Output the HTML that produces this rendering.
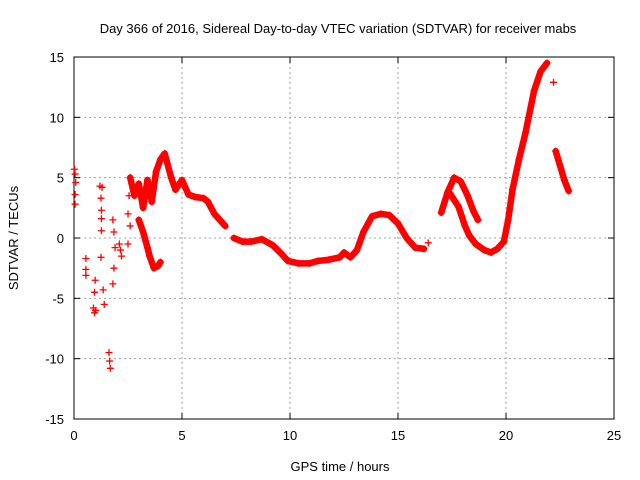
<!DOCTYPE html>
<html><head><meta charset="utf-8"><style>
body{margin:0;background:#fff;}
svg{display:block;font-family:"Liberation Sans",sans-serif;}
</style></head><body>
<svg id="chart" width="640" height="480" xmlns="http://www.w3.org/2000/svg">
<rect width="640" height="480" fill="#fff"/>
<text x="338" y="33" font-size="13" text-anchor="middle">Day 366 of 2016, Sidereal Day-to-day VTEC variation (SDTVAR) for receiver mabs</text>
<text x="340" y="471" font-size="13" text-anchor="middle">GPS time / hours</text>
<text x="18" y="238" font-size="13" text-anchor="middle" transform="rotate(-90 18 238)">SDTVAR / TECUs</text>
<g id="grid"></g><g id="axes"></g><g id="marks"></g>
</svg>
<script>
const xTicks=[0,5,10,15,20,25];
const yTicks=[-15,-10,-5,0,5,10,15];
const scatterT=[0.02,0.05,0.08,0.05,0.05,0.55,0.55,0.55,0.9,0.95,1.0,0.95,0.98,1.2,1.3,1.25,1.27,1.27,1.27,1.25,1.35,1.4,1.62,1.65,1.68,1.8,1.85,1.9,1.85,1.8,2.1,2.15,2.2,2.5,2.55,2.6,2.6,2.5,16.4,22.2];
const scatterV=[5.7,5.3,4.6,3.6,2.8,-1.7,-2.6,-3.1,-5.8,-6.2,-6.0,-4.5,-3.5,4.3,4.2,3.3,2.3,1.6,0.6,-1.6,-4.3,-5.5,-9.5,-10.2,-10.8,1.5,0.5,-0.8,-2.5,-3.8,-0.5,-1.0,-1.5,2.0,3.5,5.0,1.0,-0.5,-0.4,12.9];
const segUpperT=[2.6,2.8,3.0,3.2,3.4,3.6,3.8,4.0,4.2,4.5,4.7,5.0,5.3,5.6,6.0,6.2,6.5,7.0];
const segUpperV=[5.0,3.5,4.5,2.5,4.8,3.0,5.5,6.5,7.0,5.0,4.0,4.8,3.6,3.4,3.3,3.0,2.0,1.0];
const segLowerT=[3.0,3.2,3.4,3.5,3.7,3.9,4.0];
const segLowerV=[1.5,0.5,-0.8,-1.5,-2.5,-2.3,-2.0];
const segMidT=[7.4,7.8,8.2,8.7,9.2,9.6,9.9,10.4,10.9,11.3,11.8,12.3,12.5,12.8,13.1,13.4,13.8,14.2,14.6,15.0,15.4,15.8,16.2];
const segMidV=[0,-0.3,-0.3,-0.1,-0.6,-1.3,-1.9,-2.1,-2.1,-1.9,-1.8,-1.6,-1.2,-1.6,-1.0,0.5,1.8,2.0,1.9,1.2,0.0,-0.8,-0.9];
const segLoopT=[17.0,17.3,17.6,17.9,18.2,18.5,18.7];
const segLoopV=[2.1,3.8,5.0,4.7,3.6,2.2,1.5];
const segRiseT=[17.4,17.8,18.1,18.3,18.6,19.0,19.3,19.6,19.9,20.1,20.3,20.6,20.9,21.3,21.6,21.9];
const segRiseV=[3.7,2.6,1.0,0.2,-0.5,-1.0,-1.2,-0.9,-0.3,1.5,4.0,6.5,8.7,12.2,13.8,14.5];
const segTailT=[22.3,22.5,22.7,22.9];
const segTailV=[7.2,6.0,4.8,3.9];

const X=t=>74+t*21.6, Y=v=>238-v*12.067;
const NS="http://www.w3.org/2000/svg";
function mk(tag,attrs,parent){const e=document.createElementNS(NS,tag);for(const k in attrs)e.setAttribute(k,attrs[k]);parent.appendChild(e);return e;}
const grid=document.getElementById('grid'),axes=document.getElementById('axes'),marks=document.getElementById('marks');
xTicks.forEach(t=>{
  if(t>0&&t<25){const g=mk('line',{x1:X(t),x2:X(t),y1:57,y2:419,stroke:'#a0a0a0','stroke-dasharray':'2,3'},grid);
  
  }
  const l=mk('text',{x:X(t),y:440,'font-size':13,'text-anchor':'middle'},axes);l.textContent=t;
  
  
  mk('line',{x1:X(t),x2:X(t),y1:419,y2:413,stroke:'#000'},axes);
  mk('line',{x1:X(t),x2:X(t),y1:57,y2:63,stroke:'#000'},axes);
});
yTicks.forEach(v=>{
  if(v>-15&&v<15){const g=mk('line',{x1:74,x2:614,y1:Y(v),y2:Y(v),stroke:'#a0a0a0','stroke-dasharray':'2,3'},grid);
  
  }
  const l=mk('text',{x:64,y:Y(v)+5,'font-size':13,'text-anchor':'end'},axes);l.textContent=v;
  
  
  mk('line',{x1:74,x2:80,y1:Y(v),y2:Y(v),stroke:'#000'},axes);
  mk('line',{x1:614,x2:608,y1:Y(v),y2:Y(v),stroke:'#000'},axes);
});
const frame=mk('rect',{x:74,y:57,width:540,height:362,fill:'none',stroke:'#000'},axes);


function plus(t,v){const p=mk('path',{d:`M${X(t)-3.5},${Y(v)}h7M${X(t)},${Y(v)-3.5}v7`,stroke:'#f00','stroke-width':1.3},marks);
  
  }
function seg(ts,vs,name){
  const pl=mk('polyline',{points:ts.map((t,i)=>X(t)+','+Y(vs[i])).join(' '),fill:'none',stroke:'#f00','stroke-width':6.5,'stroke-linejoin':'round','stroke-linecap':'round'},marks);
  
  
  ts.forEach((t,i)=>plus(t,vs[i]));
}
seg(segUpperT,segUpperV,'series-upper-band');
seg(segLowerT,segLowerV,'series-lower-branch');
seg(segMidT,segMidV,'series-midday');
seg(segLoopT,segLoopV,'series-evening-loop');
seg(segRiseT,segRiseV,'series-night-rise');
seg(segTailT,segTailV,'series-tail');
scatterT.forEach((t,i)=>plus(t,scatterV[i]));
</script>
</body></html>
